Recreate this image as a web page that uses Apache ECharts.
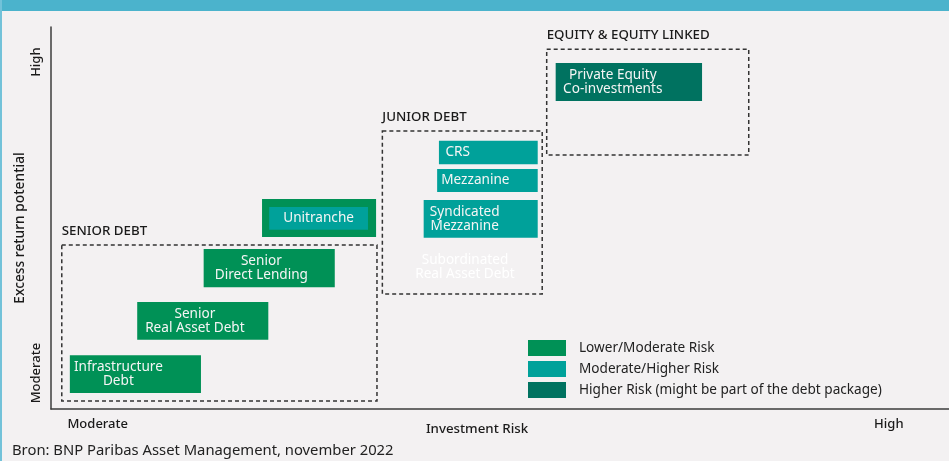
<!DOCTYPE html>
<html>
<head>
<meta charset="utf-8">
<script src="https://cdn.jsdelivr.net/npm/echarts@6/dist/echarts.min.js"></script>
<style>
  html, body {margin: 0; padding: 0; background: #f3f1f2}
  #chart {width: 949px; height: 461px}
</style>
</head>
<body>
<div id="chart"></div>
<script>
// extents on a 0-100 risk (x) / return (y) scale: [x0, x1, y0, y1]
const lowerNames = ['Infrastructure\nDebt', 'Senior\nReal Asset Debt', 'Senior\nDirect Lending', 'Unitranche frame']
const lowerBoxes = [[2.1, 16.7, 4.2, 14.1], [9.6, 24.2, 18.1, 28.0], [17.0, 31.6, 31.9, 41.9], [23.5, 36.2, 45.0, 55.0]]

const midNames = ['Unitranche', 'CRS', 'Mezzanine', 'Syndicated\nMezzanine']
const midBoxes = [[24.3, 35.3, 46.9, 52.9], [43.2, 54.2, 64.1, 70.2], [43.0, 54.2, 56.8, 62.8], [41.5, 54.2, 44.8, 54.7]]

const highNames = ['Private Equity\nCo-investments']
const highBoxes = [[56.2, 72.5, 80.6, 90.6]]

const groupNames = ['SENIOR DEBT', 'JUNIOR DEBT', 'EQUITY & EQUITY LINKED']
const groupBoxes = [[1.2, 36.3, 2.1, 42.9], [36.9, 54.7, 30.1, 72.8], [55.2, 77.7, 66.5, 94.2]]

const ghostNames = ['Subordinated\nReal Asset Debt']
const ghostPoints = [[46.1, 37.2]]

const legendNames = ['Lower/Moderate Risk', 'Moderate/Higher Risk', 'Higher Risk (might be part of the debt package)']
const xTickLabels = ['Moderate', 'High']
const yTickLabels = ['Moderate', 'High']

// where the label sits across each box (fraction of width)
const labelAnchor = {
  'Infrastructure\nDebt': 0.37,
  'Senior\nReal Asset Debt': 0.44,
  'Senior\nDirect Lending': 0.44,
  'CRS': 0.19,
  'Mezzanine': 0.38,
  'Syndicated\nMezzanine': 0.36,
  'Private Equity\nCo-investments': 0.39
}

const FONT = '"Noto Sans", sans-serif'
const chart = echarts.init(document.getElementById('chart'))

const boxItem = (names) => (params, api) => {
  const p0 = api.coord([api.value(0), api.value(3)])
  const p1 = api.coord([api.value(1), api.value(2)])
  const w = p1[0] - p0[0], h = p1[1] - p0[1]
  const name = names[params.dataIndex]
  const children = [{type: 'rect', shape: {x: p0[0], y: p0[1], width: w, height: h}, style: {fill: api.visual('color')}}]
  if (!name.endsWith('frame')) {
    children.push({
      type: 'text',
      x: p0[0] + w * (labelAnchor[name] ?? 0.5),
      y: p0[1] + h / 2,
      style: {text: name, fill: '#f5f5f5', fontSize: 13.6, fontFamily: FONT, align: 'center', verticalAlign: 'middle', lineHeight: 13.5}
    })
  }
  return {type: 'group', children}
}

const groupItem = (params, api) => {
  const p0 = api.coord([api.value(0), api.value(3)])
  const p1 = api.coord([api.value(1), api.value(2)])
  return {
    type: 'group', children: [
      {type: 'rect', shape: {x: p0[0], y: p0[1], width: p1[0] - p0[0], height: p1[1] - p0[1]},
        style: {fill: 'none', stroke: '#333', lineWidth: 1.5, lineDash: [4, 3]}},
      {type: 'text', x: p0[0], y: p0[1] - 14,
        style: {text: groupNames[params.dataIndex], fill: '#1a1a1a', fontSize: 13.3, fontWeight: 500, fontFamily: FONT, align: 'left', verticalAlign: 'middle'}}
    ]
  }
}

const ghostItem = (params, api) => {
  const p = api.coord([api.value(0), api.value(1)])
  return {type: 'text', x: p[0], y: p[1],
    style: {text: ghostNames[params.dataIndex], fill: '#ffffff', fontSize: 13.6, fontFamily: FONT, align: 'center', verticalAlign: 'middle', lineHeight: 13.5}}
}

chart.setOption({
  backgroundColor: '#f3f1f2',
  animation: false,
  textStyle: {fontFamily: FONT},
  grid: {left: 51, right: 0, top: 27, bottom: 52},
  legend: {
    data: legendNames,
    orient: 'vertical',
    left: 523,
    top: 335,
    icon: 'rect',
    itemWidth: 38,
    itemHeight: 16,
    itemGap: 5,
    selectedMode: false,
    textStyle: {fontSize: 13.6, color: '#222', fontFamily: FONT, padding: [0, 0, 0, 8]}
  },
  xAxis: {
    type: 'value', min: 0, max: 100,
    splitLine: {show: false},
    axisTick: {show: false},
    axisLine: {lineStyle: {color: '#3d3d3d', width: 1.5}},
    axisLabel: {
      customValues: [5.2, 93.3],
      formatter: (v) => v < 50 ? xTickLabels[0] : xTickLabels[1],
      margin: 9, fontSize: 13, color: '#1a1a1a', fontWeight: 500
    },
    name: 'Investment Risk',
    nameLocation: 'middle',
    nameGap: 14,
    nameMoveOverlap: false,
    nameTextStyle: {fontSize: 13.3, color: '#1a1a1a', fontWeight: 500, padding: [0, 46, 0, 0]}
  },
  yAxis: {
    type: 'value', min: 0, max: 100,
    splitLine: {show: false},
    axisTick: {show: false},
    axisLine: {lineStyle: {color: '#3d3d3d', width: 1.5}},
    axisLabel: {
      customValues: [9.4, 90.8],
      formatter: (v) => v < 50 ? yTickLabels[0] : yTickLabels[1],
      rotate: 90, margin: 8, fontSize: 13, color: '#1a1a1a', fontWeight: 500
    },
    name: 'Excess return potential',
    nameLocation: 'middle',
    nameRotate: 90,
    nameGap: 24,
    nameMoveOverlap: false,
    nameTextStyle: {fontSize: 13.8, color: '#1a1a1a', fontWeight: 500, padding: [0, 20, 0, 0]}
  },
  graphic: [
    {type: 'rect', left: 0, top: 0, shape: {width: 949, height: 11}, style: {fill: '#4bb3cc'}},
    {type: 'rect', left: 0, top: 0, shape: {width: 2, height: 461}, style: {fill: '#72c2d9'}},
    {type: 'text', left: 12, top: 443,
      style: {text: 'Bron: BNP Paribas Asset Management, november 2022', fill: '#222', fontSize: 14.8, fontFamily: FONT}}
  ],
  series: [
    {type: 'custom', name: 'groups', renderItem: groupItem, encode: {x: [0, 1], y: [2, 3]}, data: groupBoxes, silent: true},
    {type: 'custom', name: 'ghost', renderItem: ghostItem, encode: {x: 0, y: 1}, data: ghostPoints, silent: true},
    {type: 'custom', name: legendNames[0], itemStyle: {color: '#009156'}, renderItem: boxItem(lowerNames), encode: {x: [0, 1], y: [2, 3]}, data: lowerBoxes},
    {type: 'custom', name: legendNames[1], itemStyle: {color: '#00a19a'}, renderItem: boxItem(midNames), encode: {x: [0, 1], y: [2, 3]}, data: midBoxes},
    {type: 'custom', name: legendNames[2], itemStyle: {color: '#007260'}, renderItem: boxItem(highNames), encode: {x: [0, 1], y: [2, 3]}, data: highBoxes}
  ]
})
</script>
</body>
</html>
